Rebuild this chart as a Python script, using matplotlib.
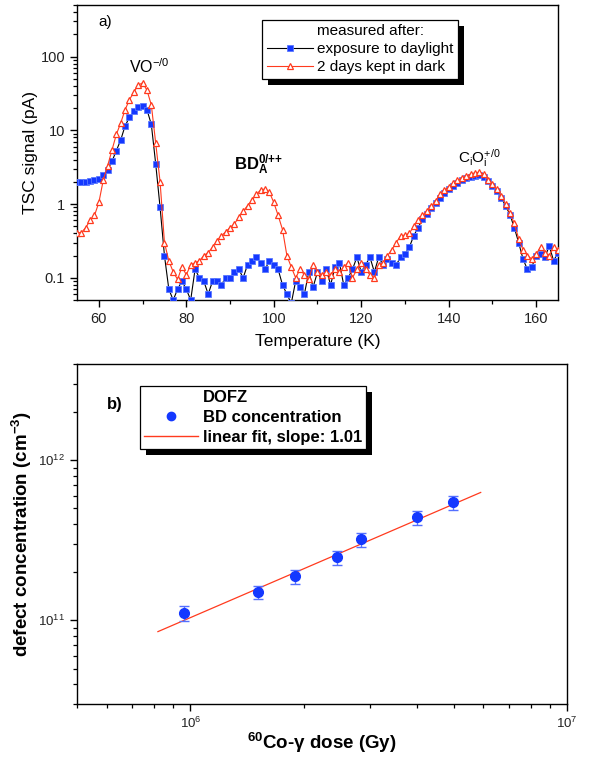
import numpy as np
import matplotlib
matplotlib.use("Agg")
import matplotlib.pyplot as plt
from matplotlib.lines import Line2D
from matplotlib.patches import Rectangle
from matplotlib.ticker import LogLocator, FixedLocator, FuncFormatter, MultipleLocator, NullFormatter

plt.rcParams['font.family'] = ['Liberation Sans', 'DejaVu Sans']
plt.rcParams['mathtext.fontset'] = 'custom'
plt.rcParams['mathtext.rm'] = 'Liberation Sans'
plt.rcParams['mathtext.it'] = 'Liberation Sans:italic'
plt.rcParams['mathtext.bf'] = 'Liberation Sans:bold'

# ---- panel a: TSC spectra, one point per kelvin ----
temperature = list(range(55, 166))
tsc_daylight = [
    2.0, 2.0, 2.0, 2.05, 2.1, 2.2, 2.5, 2.9, 3.8, 5.3,          # 55-64
    7.4, 11.5, 15, 18, 20.5, 21.5, 19, 12, 3.5, 0.9,          # 65-74
    0.2, 0.07, 0.05, 0.07, 0.09, 0.07, 0.05, 0.13, 0.1, 0.09,  # 75-84
    0.06, 0.09, 0.09, 0.08, 0.1, 0.1, 0.12, 0.13, 0.1, 0.15,   # 85-94
    0.17, 0.19, 0.16, 0.13, 0.17, 0.15, 0.13, 0.08, 0.06, 0.045,  # 95-104
    0.09, 0.075, 0.06, 0.12, 0.075, 0.12, 0.09, 0.13, 0.08, 0.14,  # 105-114
    0.16, 0.08, 0.1, 0.13, 0.19, 0.12, 0.15, 0.19, 0.12, 0.19,  # 115-124
    0.15, 0.18, 0.16, 0.15, 0.19, 0.21, 0.26, 0.37, 0.48, 0.62,  # 125-134
    0.74, 0.88, 1.03, 1.22, 1.42, 1.6, 1.78, 1.95, 2.1, 2.25,  # 135-144
    2.35, 2.42, 2.45, 2.35, 2.05, 1.75, 1.5, 1.22, 0.95, 0.72,  # 145-154
    0.48, 0.3, 0.18, 0.13, 0.14, 0.2, 0.21, 0.19, 0.27, 0.17,  # 155-164
    0.22,                                                      # 165
]
tsc_dark = [
    0.41, 0.41, 0.48, 0.6, 0.7, 1.05, 2.1, 3.3, 5.4, 8.8,      # 55-64
    12.6, 19, 26, 33, 41, 44, 35, 22, 6.7, 2.0,               # 65-74
    0.3, 0.17, 0.12, 0.095, 0.14, 0.11, 0.15, 0.16, 0.17, 0.2,  # 75-84
    0.22, 0.26, 0.32, 0.37, 0.42, 0.48, 0.54, 0.66, 0.8, 0.95,  # 85-94
    1.12, 1.35, 1.55, 1.6, 1.45, 1.05, 0.7, 0.45, 0.2, 0.14,   # 95-104
    0.1, 0.13, 0.11, 0.095, 0.15, 0.12, 0.11, 0.12, 0.11, 0.13,  # 105-114
    0.12, 0.14, 0.16, 0.1, 0.13, 0.16, 0.13, 0.11, 0.1, 0.15,  # 115-124
    0.16, 0.2, 0.24, 0.3, 0.37, 0.38, 0.4, 0.5, 0.6, 0.7,      # 125-134
    0.8, 0.93, 1.1, 1.35, 1.55, 1.7, 1.9, 2.1, 2.25, 2.4,      # 135-144
    2.55, 2.65, 2.7, 2.55, 2.15, 1.85, 1.6, 1.3, 1.0, 0.75,    # 145-154
    0.55, 0.34, 0.24, 0.2, 0.18, 0.21, 0.26, 0.22, 0.2, 0.26,  # 155-164
    0.24,                                                      # 165
]

# ---- panel b: BD concentration vs dose ----
dose = [9.6e5, 1.51e6, 1.90e6, 2.45e6, 2.84e6, 4.0e6, 4.98e6]
bd_conc = [1.11e11, 1.50e11, 1.88e11, 2.48e11, 3.21e11, 4.40e11, 5.47e11]
bd_err = [0.12e11, 0.15e11, 0.19e11, 0.25e11, 0.32e11, 0.44e11, 0.55e11]
fit_dose = [8.2e5, 5.9e6]
fit_conc = [8.5e10, 6.3e11]

blue = '#1438ff'
red = '#ff3a1e'

fig = plt.figure(figsize=(5.9, 7.58), dpi=100)
W, H = 590, 758
ax1 = fig.add_axes([77 / W, 1 - 300 / H, (558 - 77) / W, (300 - 5) / H])
ax2 = fig.add_axes([77 / W, 1 - 704 / H, (567 - 77) / W, (704 - 364) / H])

# panel a
ax1.plot(temperature, tsc_daylight, color='black', lw=0.8, marker='s', ms=4.4,
         mfc=blue, mec='#5a78ff', mew=0.6, zorder=3)
ax1.plot(temperature, tsc_dark, color=red, lw=0.8, marker='^', ms=4.8,
         mfc='white', mec=red, mew=0.9, zorder=4)
ax1.set_yscale('log')
ax1.set_xlim(55, 165)
ax1.set_ylim(0.05, 500)
ax1.xaxis.set_major_locator(MultipleLocator(20))
ax1.xaxis.set_minor_locator(MultipleLocator(10))
ax1.yaxis.set_major_locator(FixedLocator([0.1, 1, 10, 100]))
ax1.yaxis.set_minor_locator(LogLocator(base=10, subs=np.arange(2, 10)))
ax1.yaxis.set_major_formatter(FuncFormatter(lambda v, p: f'{v:g}'))
ax1.yaxis.set_minor_formatter(NullFormatter())
ax1.set_xlabel('Temperature (K)', fontsize=12.5, labelpad=6)
ax1.set_ylabel('TSC signal (pA)', fontsize=12.5, labelpad=2)

ax1.text(0.045, 0.93, 'a)', transform=ax1.transAxes, fontsize=11)
ax1.text(71.5, 55, r'VO$^\mathregular{-/0}$', fontsize=11.5, ha='center', va='bottom')
ax1.text(96.5, 2.3, r'$\mathbf{BD_A^{0/{+}{+}}}$', fontsize=12, ha='center', va='bottom')
ax1.text(147, 3.0, r'C$_\mathregular{i}$O$_\mathregular{i}^\mathregular{+/0}$', fontsize=11,
         ha='center', va='bottom')

handles_a = [
    Line2D([], [], ls='none'),
    Line2D([], [], color='black', lw=0.8, marker='s', ms=4.2, mfc=blue, mec='#5a78ff', mew=0.6),
    Line2D([], [], color=red, lw=0.8, marker='^', ms=4.5, mfc='white', mec=red, mew=0.9),
]
leg1 = ax1.legend(handles_a, ['measured after:', 'exposure to daylight', '2 days kept in dark'],
                  loc='upper left', bbox_to_anchor=(0.385, 0.95),
                  fontsize=11, fancybox=False, framealpha=1,
                  edgecolor='black', borderpad=0.3, labelspacing=0.25, handlelength=3.0,
                  handletextpad=0.3, borderaxespad=0, numpoints=1)
leg1.get_frame().set_linewidth(0.9)

# panel b
ax2.errorbar(dose, bd_conc, yerr=bd_err, fmt='o', ms=7, color=blue, mec=blue,
             ecolor='#5470ff', elinewidth=1.0, capsize=3.5, capthick=1.0, zorder=3)
ax2.plot(fit_dose, fit_conc, color=red, lw=0.9, zorder=2)
ax2.set_xscale('log')
ax2.set_yscale('log')
ax2.set_xlim(5e5, 1e7)
ax2.set_ylim(3e10, 4e12)
ax2.set_xlabel(r'$\mathbf{^{60}}$Co-γ dose (Gy)', fontsize=13.5, fontweight='bold', labelpad=0)
ax2.set_ylabel(r'defect concentration (cm$\mathbf{^{-3}}$)', fontsize=13.5, fontweight='bold',
               labelpad=3)
ax2.text(0.061, 0.88, 'b)', transform=ax2.transAxes, fontsize=12, fontweight='bold', va='center')

handles_b = [
    Line2D([], [], ls='none'),
    Line2D([], [], ls='none', marker='o', ms=6, color=blue),
    Line2D([], [], color=red, lw=1.0),
]
leg2 = ax2.legend(handles_b, ['DOFZ', 'BD concentration', 'linear fit, slope: 1.01'],
                  loc='upper left', bbox_to_anchor=(0.129, 0.935),
                  prop={'size': 12, 'weight': 'bold'}, fancybox=False, framealpha=1,
                  edgecolor='black', borderpad=0.25, labelspacing=0.3, handlelength=3.2,
                  handletextpad=0.3, borderaxespad=0, numpoints=1)
leg2.get_frame().set_linewidth(0.9)

for ax in (ax1, ax2):
    for sp in ax.spines.values():
        sp.set_linewidth(1.0)
    ax.tick_params(which='major', direction='out', length=5, width=1.0, colors='black',
                   labelcolor='#222222', top=False, right=False)
    ax.tick_params(which='minor', direction='out', length=3, width=0.9, top=False, right=False)
ax1.tick_params(which='major', labelsize=10.5)
ax2.tick_params(which='major', labelsize=9.5)

# heavy black drop shadows behind the legends
fig.canvas.draw()
for ax, leg in ((ax1, leg1), (ax2, leg2)):
    bb = leg.get_window_extent()
    shadow = Rectangle((bb.x0 + 6, bb.y0 - 6), bb.width, bb.height, transform=None,
                       facecolor='black', edgecolor='none', zorder=4.9, clip_on=False)
    ax.add_artist(shadow)

fig.savefig('out.png', dpi=100)
